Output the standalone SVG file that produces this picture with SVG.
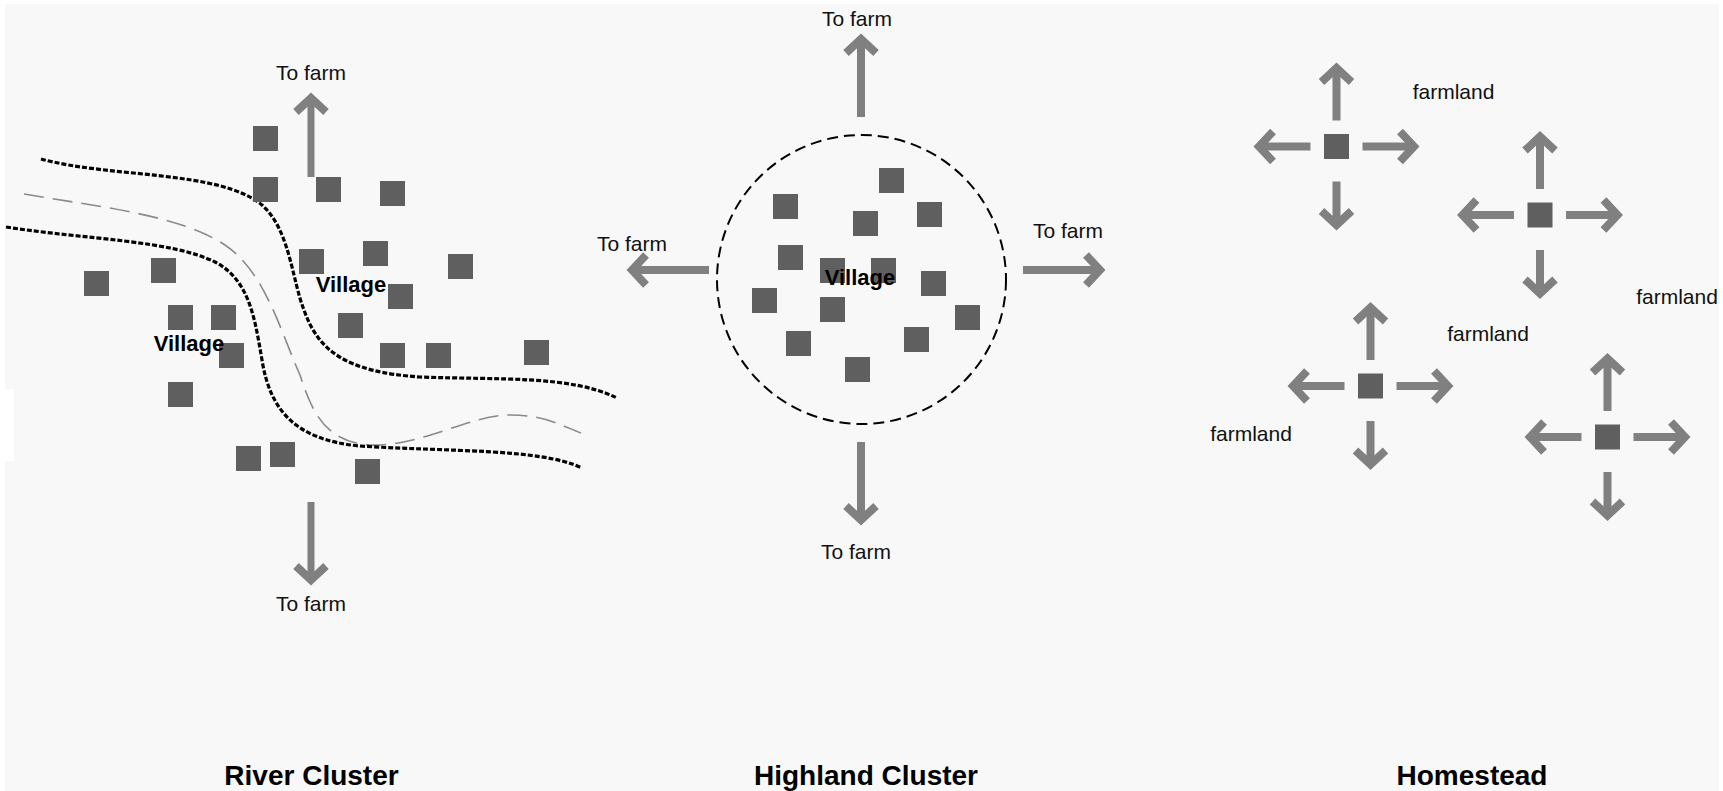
<svg xmlns="http://www.w3.org/2000/svg" width="1723" height="791" viewBox="0 0 1723 791">
<style>
.bg{fill:#f8f8f8}
.h{fill:#5f5f5f}
.ar{stroke:#808080;stroke-width:8;fill:none}
.arr{stroke:#808080;stroke-width:7;fill:none}
.lbl{font-family:"Liberation Sans",Arial,sans-serif;font-size:21px;fill:#111;text-anchor:middle}
.vil{font-family:"Liberation Sans",Arial,sans-serif;font-size:22px;font-weight:bold;fill:#000;text-anchor:middle}
.ttl{font-family:"Liberation Sans",Arial,sans-serif;font-size:28px;font-weight:bold;fill:#000;text-anchor:middle}
.bank{stroke:#000;stroke-width:3.2;fill:none;stroke-dasharray:5 2}
.mid{stroke:#8a8a8a;stroke-width:1.6;fill:none;stroke-dasharray:20 9}
.ring{stroke:#000;stroke-width:2;fill:none;stroke-dasharray:11 6}
</style>
<defs>
<marker id="ah" markerUnits="userSpaceOnUse" markerWidth="40" markerHeight="40" viewBox="-20 -20 40 40" refX="0" refY="0" orient="auto" overflow="visible">
<path d="M-14,-15 L0,0 L-14,15" fill="none" stroke="#808080" stroke-width="8" stroke-linejoin="miter"/>
</marker>
</defs>
<rect x="0" y="0" width="1723" height="791" fill="#ffffff"/>
<rect class="bg" x="5" y="4" width="1714" height="787"/>
<rect x="0" y="389" width="14" height="72" fill="#ffffff"/>

<g id="river">
<path class="bank" d="M41,159 C110,178 220,170 262,205 C290,230 292,280 304,310 C318,350 345,372 420,377 C500,380 570,375 617,398"/>
<path class="mid" d="M24,194 C100,207 180,215 225,245 C265,272 280,330 300,375 C312,412 325,442 370,445 C420,447 470,415 510,415 C545,415 560,425 581,433"/>
<path class="bank" d="M6,227 C90,240 170,240 215,262 C250,280 255,320 262,360 C270,410 295,440 360,446 C450,452 540,448 582,468"/>
</g>

<g id="river-village-east">
<rect class="h" x="253" y="126" width="25" height="25"/>
<rect class="h" x="253" y="177" width="25" height="25"/>
<rect class="h" x="316" y="177" width="25" height="25"/>
<rect class="h" x="380" y="181" width="25" height="25"/>
<rect class="h" x="299" y="249" width="25" height="25"/>
<rect class="h" x="363" y="241" width="25" height="25"/>
<rect class="h" x="448" y="254" width="25" height="25"/>
<rect class="h" x="388" y="284" width="25" height="25"/>
<rect class="h" x="338" y="313" width="25" height="25"/>
<rect class="h" x="380" y="343" width="25" height="25"/>
<rect class="h" x="426" y="343" width="25" height="25"/>
<rect class="h" x="524" y="340" width="25" height="25"/>
<text class="vil" x="351" y="292">Village</text>
</g>

<g id="river-village-west">
<rect class="h" x="84" y="271" width="25" height="25"/>
<rect class="h" x="151" y="258" width="25" height="25"/>
<rect class="h" x="168" y="305" width="25" height="25"/>
<rect class="h" x="211" y="305" width="25" height="25"/>
<rect class="h" x="219" y="343" width="25" height="25"/>
<rect class="h" x="168" y="382" width="25" height="25"/>
<rect class="h" x="236" y="446" width="25" height="25"/>
<rect class="h" x="270" y="442" width="25" height="25"/>
<rect class="h" x="355" y="459" width="25" height="25"/>
<text class="vil" x="189" y="351">Village</text>
</g>

<g id="highland-village">
<circle class="ring" cx="861.5" cy="279.5" r="144.5"/>
<rect class="h" x="879" y="168" width="25" height="25"/>
<rect class="h" x="773" y="194" width="25" height="25"/>
<rect class="h" x="853" y="211" width="25" height="25"/>
<rect class="h" x="917" y="202" width="25" height="25"/>
<rect class="h" x="778" y="245" width="25" height="25"/>
<rect class="h" x="820" y="258" width="25" height="25"/>
<rect class="h" x="871" y="258" width="25" height="25"/>
<rect class="h" x="921" y="271" width="25" height="25"/>
<rect class="h" x="752" y="288" width="25" height="25"/>
<rect class="h" x="820" y="297" width="25" height="25"/>
<rect class="h" x="955" y="305" width="25" height="25"/>
<rect class="h" x="786" y="331" width="25" height="25"/>
<rect class="h" x="904" y="327" width="25" height="25"/>
<rect class="h" x="845" y="357" width="25" height="25"/>
<text class="vil" x="860" y="285">Village</text>
</g>

<g id="homestead-1"><rect class="h" x="1324" y="134" width="25" height="25"/></g>
<g id="homestead-2"><rect class="h" x="1527.5" y="202.5" width="25" height="25"/></g>
<g id="homestead-3"><rect class="h" x="1358" y="373.5" width="25" height="25"/></g>
<g id="homestead-4"><rect class="h" x="1595" y="424.5" width="25" height="25"/></g>

<g id="connectors">
<line class="arr" x1="311" y1="177" x2="311" y2="98" marker-end="url(#ah)"/>
<line class="arr" x1="311" y1="502" x2="311" y2="580" marker-end="url(#ah)"/>
<line class="ar" x1="861" y1="117" x2="861" y2="39" marker-end="url(#ah)"/>
<line class="ar" x1="861" y1="442" x2="861" y2="520" marker-end="url(#ah)"/>
<line class="ar" x1="709" y1="270" x2="632" y2="270" marker-end="url(#ah)"/>
<line class="ar" x1="1023" y1="270" x2="1100" y2="270" marker-end="url(#ah)"/>

<line class="ar" x1="1336.5" y1="120.5" x2="1336.5" y2="68" marker-end="url(#ah)"/>
<line class="ar" x1="1336.5" y1="181.5" x2="1336.5" y2="225" marker-end="url(#ah)"/>
<line class="ar" x1="1310.5" y1="146.5" x2="1259" y2="146.5" marker-end="url(#ah)"/>
<line class="ar" x1="1362.5" y1="146.5" x2="1414" y2="146.5" marker-end="url(#ah)"/>

<line class="ar" x1="1540" y1="189" x2="1540" y2="136.5" marker-end="url(#ah)"/>
<line class="ar" x1="1540" y1="250" x2="1540" y2="293.5" marker-end="url(#ah)"/>
<line class="ar" x1="1514" y1="215" x2="1462.5" y2="215" marker-end="url(#ah)"/>
<line class="ar" x1="1566" y1="215" x2="1617.5" y2="215" marker-end="url(#ah)"/>

<line class="ar" x1="1370.5" y1="360" x2="1370.5" y2="307.5" marker-end="url(#ah)"/>
<line class="ar" x1="1370.5" y1="421" x2="1370.5" y2="464.5" marker-end="url(#ah)"/>
<line class="ar" x1="1344.5" y1="386" x2="1293" y2="386" marker-end="url(#ah)"/>
<line class="ar" x1="1396.5" y1="386" x2="1448" y2="386" marker-end="url(#ah)"/>

<line class="ar" x1="1607.5" y1="411" x2="1607.5" y2="358.5" marker-end="url(#ah)"/>
<line class="ar" x1="1607.5" y1="472" x2="1607.5" y2="515.5" marker-end="url(#ah)"/>
<line class="ar" x1="1581.5" y1="437" x2="1530" y2="437" marker-end="url(#ah)"/>
<line class="ar" x1="1633.5" y1="437" x2="1685" y2="437" marker-end="url(#ah)"/>
</g>

<g id="labels">
<text class="lbl" x="311" y="80">To farm</text>
<text class="lbl" x="311" y="611">To farm</text>
<text class="lbl" x="857" y="26">To farm</text>
<text class="lbl" x="632" y="251">To farm</text>
<text class="lbl" x="1068" y="238">To farm</text>
<text class="lbl" x="856" y="559">To farm</text>
<text class="lbl" x="1453.5" y="99">farmland</text>
<text class="lbl" x="1677" y="304">farmland</text>
<text class="lbl" x="1488" y="341">farmland</text>
<text class="lbl" x="1251" y="441">farmland</text>
</g>

<g id="titles">
<text class="ttl" x="311.5" y="785">River Cluster</text>
<text class="ttl" x="866" y="785">Highland Cluster</text>
<text class="ttl" x="1472" y="785">Homestead</text>
</g>
</svg>
